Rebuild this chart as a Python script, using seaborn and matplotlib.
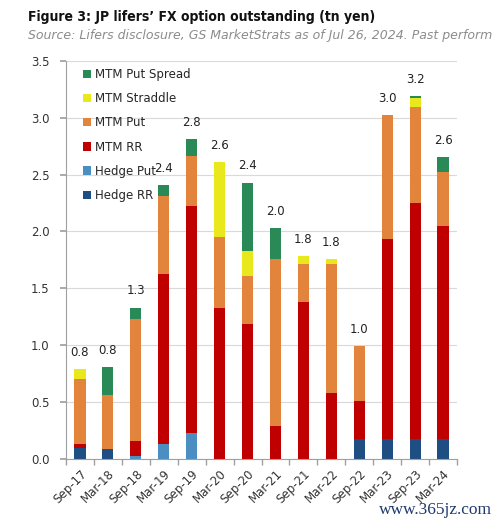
import numpy as np
import pandas as pd
import seaborn as sns
import matplotlib.pyplot as plt
from matplotlib.patches import Patch

sns.set_theme(style="white")
plt.rcParams['font.family'] = ['DejaVu Sans']

dates = ["Sep-17", "Mar-18", "Sep-18", "Mar-19", "Sep-19", "Mar-20", "Sep-20",
         "Mar-21", "Sep-21", "Mar-22", "Sep-22", "Mar-23", "Sep-23", "Mar-24"]
hedge_rr = [0.10, 0.09, 0.00, 0.00, 0.00, 0.00, 0.00, 0.00, 0.00, 0.00, 0.18, 0.18, 0.18, 0.18]
hedge_put = [0.00, 0.00, 0.03, 0.13, 0.23, 0.00, 0.00, 0.00, 0.00, 0.00, 0.00, 0.00, 0.00, 0.00]
mtm_rr = [0.03, 0.00, 0.13, 1.50, 1.99, 1.33, 1.19, 0.29, 1.38, 0.58, 0.33, 1.75, 2.07, 1.87]
mtm_put = [0.57, 0.47, 1.07, 0.68, 0.44, 0.62, 0.42, 1.47, 0.33, 1.13, 0.48, 1.09, 0.84, 0.47]
mtm_straddle = [0.09, 0.00, 0.00, 0.00, 0.00, 0.66, 0.22, 0.00, 0.07, 0.05, 0.00, 0.00, 0.08, 0.00]
mtm_put_spread = [0.00, 0.25, 0.10, 0.10, 0.15, 0.00, 0.60, 0.27, 0.00, 0.00, 0.00, 0.00, 0.02, 0.13]
total_labels = ["0.8", "0.8", "1.3", "2.4", "2.8", "2.6", "2.4",
                "2.0", "1.8", "1.8", "1.0", "3.0", "3.2", "2.6"]

series = ["Hedge RR", "Hedge Put", "MTM RR", "MTM Put", "MTM Straddle", "MTM Put Spread"]
colors = {"Hedge RR": "#1F4E82", "Hedge Put": "#4A8EC2", "MTM RR": "#C00000",
          "MTM Put": "#E3843C", "MTM Straddle": "#E8E81C", "MTM Put Spread": "#2A8A57"}

df = pd.DataFrame({"date": dates, "Hedge RR": hedge_rr, "Hedge Put": hedge_put,
                   "MTM RR": mtm_rr, "MTM Put": mtm_put, "MTM Straddle": mtm_straddle,
                   "MTM Put Spread": mtm_put_spread})
cum = df[series].cumsum(axis=1)

fig = plt.figure(figsize=(5, 5.24), dpi=100)
ax = fig.add_axes([0.132, 0.124, 0.782, 0.76])

# stacked bars: draw cumulative totals from the top layer down
for s in reversed(series):
    sns.barplot(x=df["date"], y=cum[s], color=colors[s], width=0.4, saturation=1,
                linewidth=0, ax=ax)

tops = cum[series[-1]]
for i, lab in enumerate(total_labels):
    ax.text(i, tops[i] + 0.09, lab, ha="center", va="bottom", fontsize=8.5, color="#222222")

ax.set_ylim(0, 3.5)
ax.set_xlim(-0.5, len(dates) - 0.5)
ax.set_yticks(np.arange(0, 3.51, 0.5))
ax.set_yticklabels([f"{v:.1f}" for v in np.arange(0, 3.51, 0.5)], fontsize=8.5, color="#333333")
ax.set_xticks(range(len(dates)))
ax.set_xticklabels(dates, rotation=45, ha="right", rotation_mode="anchor", fontsize=8.5, color="#333333")
ax.set_xticks(np.arange(-0.5, len(dates), 1), minor=True)
ax.tick_params(axis="x", which="major", length=0, pad=6)
ax.tick_params(axis="x", which="minor", length=4, color="#A0A0A0", direction="out", bottom=True)
ax.tick_params(axis="y", length=4, color="#A0A0A0", direction="out", left=True, pad=8)
ax.set_xlabel("")
ax.set_ylabel("")
ax.yaxis.grid(True, color="#D9D9D9", linewidth=0.8)
ax.set_axisbelow(True)
for side in ["top", "right"]:
    ax.spines[side].set_visible(False)
for side in ["left", "bottom"]:
    ax.spines[side].set_color("#A0A0A0")
    ax.spines[side].set_linewidth(0.8)

handles = [Patch(facecolor=colors[s], edgecolor="none", label=s) for s in reversed(series)]
ax.legend(handles=handles, loc="upper left", bbox_to_anchor=(0.025, 1.0), frameon=False,
          fontsize=8.5, handlelength=0.7, handleheight=0.7, handletextpad=0.35,
          labelspacing=0.95, borderaxespad=0.2)

fig.text(0.056, 0.968, "Figure 3: JP lifers\u2019 FX option outstanding (tn yen)",
         fontsize=10, fontweight="bold", fontstretch="condensed",
         color="#111111", ha="left", va="center")
fig.text(0.056, 0.932, "Source: Lifers disclosure, GS MarketStrats as of Jul 26, 2024. Past perform",
         fontsize=9.0, style="italic", color="#8C8C8C", ha="left", va="center")
fig.text(0.984, 0.012, "www.365jz.com", fontsize=12.5, family="Liberation Serif",
         color="#1F3A6E", ha="right", va="bottom")

fig.savefig("out.png", dpi=100)
